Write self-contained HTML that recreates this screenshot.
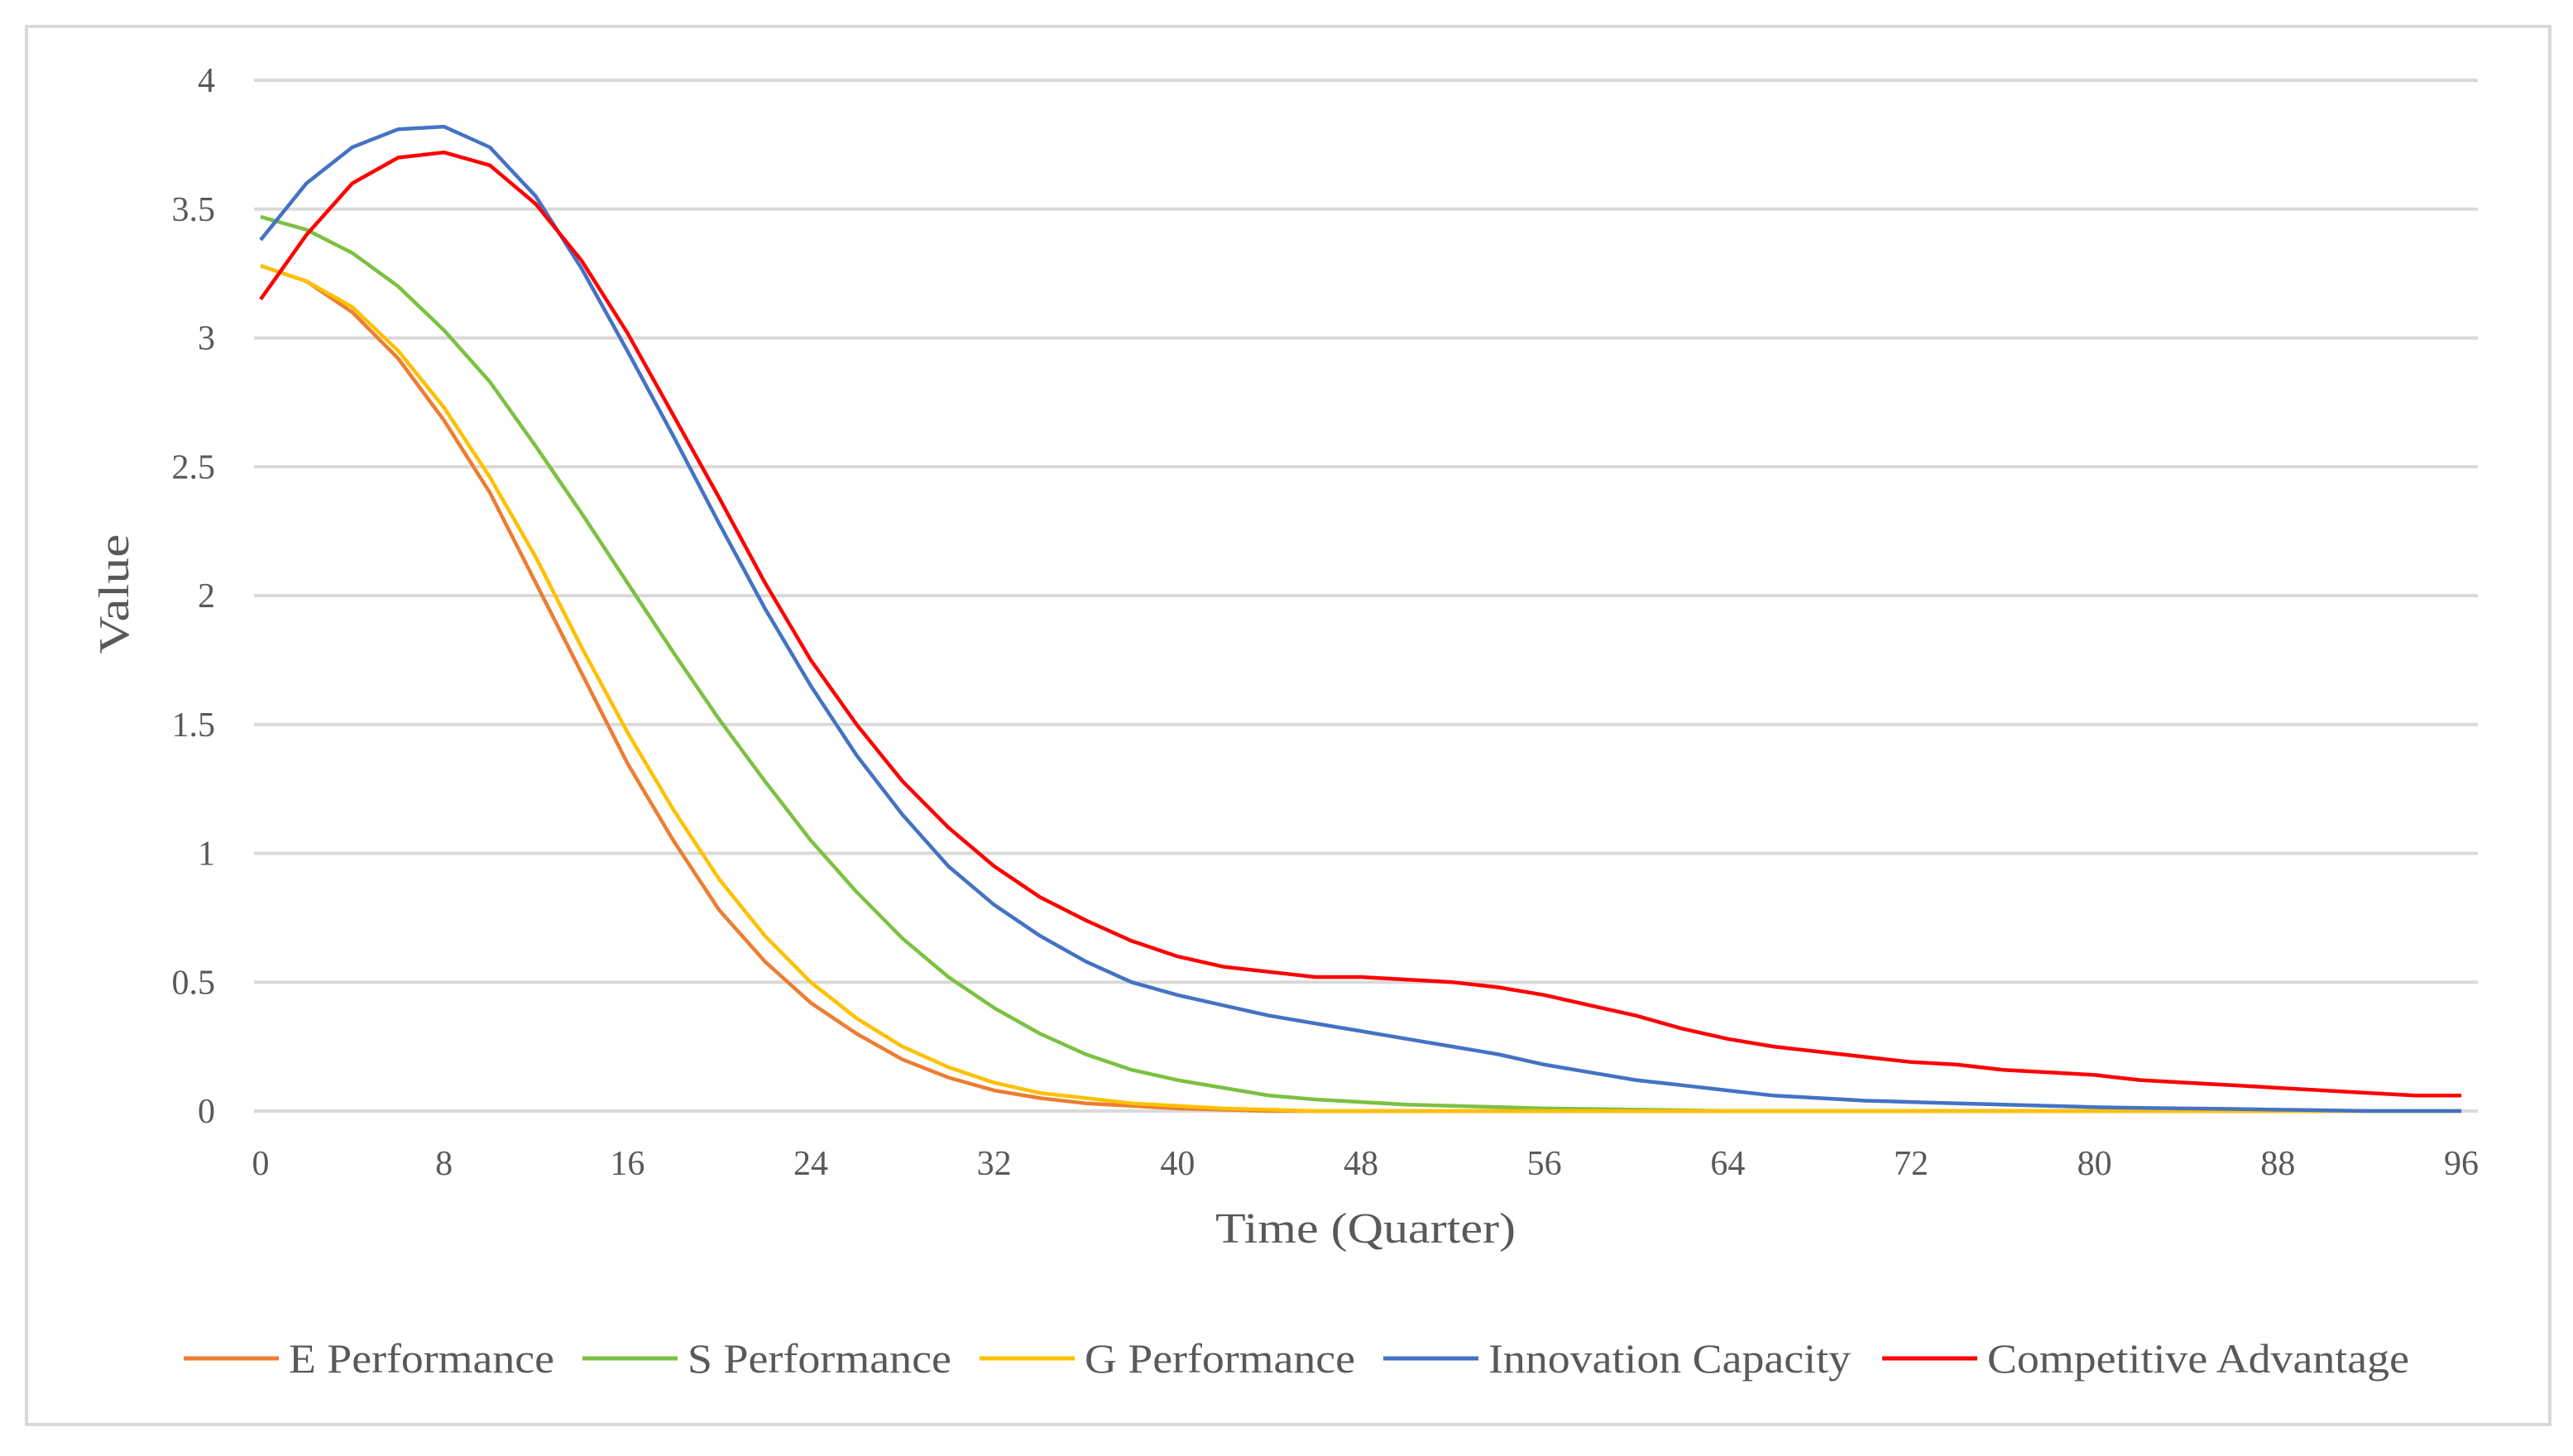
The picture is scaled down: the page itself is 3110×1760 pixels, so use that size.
<!DOCTYPE html>
<html><head><meta charset="utf-8"><style>
html,body{margin:0;padding:0;background:#fff;}
svg{display:block;}
text{font-family:"Liberation Serif",serif;fill:#595959;}
</style></head><body>
<svg id="chart" width="3110" height="1760" viewBox="0 0 3110 1760">
<rect x="32" y="32" width="3050" height="1690" fill="#fff" stroke="#d9d9d9" stroke-width="4"/>
<g id="grid"></g>
<g id="yticks"></g>
<g id="xticks"></g>
<g id="series"></g>
<text x="143" y="718" font-size="52" text-anchor="middle" transform="rotate(-90 143 718)" dominant-baseline="middle" textLength="145" lengthAdjust="spacingAndGlyphs">Value</text>
<text x="1469" y="1502" font-size="52" textLength="363" lengthAdjust="spacingAndGlyphs">Time (Quarter)</text>
<g id="legend"></g>
</svg>
<script>
const yTicks=[0,0.5,1,1.5,2,2.5,3,3.5,4];
const yTickLabels=["0","0.5","1","1.5","2","2.5","3","3.5","4"];
const xTicks=[0,8,16,24,32,40,48,56,64,72,80,88,96];
const times=[0,2,4,6,8,10,12,14,16,18,20,22,24,26,28,30,32,34,36,38,40,42,44,46,48,50,52,54,56,58,60,62,64,66,68,70,72,74,76,78,80,82,84,86,88,90,92,94,96];
const seriesNames=["E Performance","S Performance","G Performance","Innovation Capacity","Competitive Advantage"];
const ePerf=[3.28,3.22,3.1,2.92,2.68,2.4,2.05,1.7,1.35,1.05,0.78,0.58,0.42,0.3,0.2,0.13,0.08,0.05,0.03,0.02,0.01,0.005,0,0,0,0,0,0,0,0,0,0,0,0,0,0,0,0,0,0,0,0,0,0,0,0,0,0,0];
const sPerf=[3.47,3.42,3.33,3.2,3.03,2.83,2.58,2.32,2.05,1.78,1.52,1.28,1.05,0.85,0.67,0.52,0.4,0.3,0.22,0.16,0.12,0.09,0.06,0.045,0.035,0.025,0.02,0.015,0.01,0.008,0.005,0.003,0,0,0,0,0,0,0,0,0,0,0,0,0,0,0,0,0];
const gPerf=[3.28,3.22,3.12,2.95,2.73,2.46,2.15,1.8,1.47,1.17,0.9,0.68,0.5,0.36,0.25,0.17,0.11,0.07,0.05,0.03,0.02,0.01,0.005,0,0,0,0,0,0,0,0,0,0,0,0,0,0,0,0,0,0,0,0,0,0,0,0,0,0];
const innov=[3.38,3.6,3.74,3.81,3.82,3.74,3.55,3.27,2.95,2.62,2.28,1.95,1.65,1.38,1.15,0.95,0.8,0.68,0.58,0.5,0.45,0.41,0.37,0.34,0.31,0.28,0.25,0.22,0.18,0.15,0.12,0.1,0.08,0.06,0.05,0.04,0.035,0.03,0.025,0.02,0.015,0.012,0.01,0.008,0.005,0.003,0,0,0];
const compAdv=[3.15,3.4,3.6,3.7,3.72,3.67,3.52,3.3,3.02,2.7,2.38,2.05,1.75,1.5,1.28,1.1,0.95,0.83,0.74,0.66,0.6,0.56,0.54,0.52,0.52,0.51,0.5,0.48,0.45,0.41,0.37,0.32,0.28,0.25,0.23,0.21,0.19,0.18,0.16,0.15,0.14,0.12,0.11,0.1,0.09,0.08,0.07,0.06,0.06];
const colors=["#ED7D31","#7CC142","#FFC000","#4472C4","#FF0000"];
const legendTextLen=[321,319,327,438,510];
const NS="http://www.w3.org/2000/svg";
const X0=315,X1=2975,Y0=1343,Y4=97;
function xs(t){return X0+(t/96)*(X1-X0);}
function ys(v){return Y0-(v/4)*(Y0-Y4);}
function mk(tag,attrs,parent){const e=document.createElementNS(NS,tag);for(const k in attrs)e.setAttribute(k,attrs[k]);parent.appendChild(e);return e;}
const grid=document.getElementById('grid'),yt=document.getElementById('yticks'),xt=document.getElementById('xticks'),ser=document.getElementById('series'),leg=document.getElementById('legend');
yTicks.forEach((v,i)=>{
 const l=mk('line',{x1:307,x2:2995,y1:ys(v),y2:ys(v),stroke:'#d9d9d9','stroke-width':4},grid);
 
 
 const t=mk('text',{x:260,y:ys(v)+14,'font-size':42,'text-anchor':'end'},yt);
 t.textContent=yTickLabels[i];
 
 
});
xTicks.forEach(v=>{
 const t=mk('text',{x:xs(v),y:1420,'font-size':42,'text-anchor':'middle'},xt);
 t.textContent=String(v);
 
 
});
const allSeries=[ePerf,sPerf,gPerf,innov,compAdv];
allSeries.forEach((arr,si)=>{
 const pts=arr.map((v,i)=>xs(times[i]).toFixed(1)+','+ys(v).toFixed(1)).join(' ');
 const p=mk('polyline',{points:pts,fill:'none',stroke:colors[si],'stroke-width':4.5,'stroke-linejoin':'round'},ser);
 
 
});
const legX=[222,704,1184,1672,2275];
seriesNames.forEach((n,i)=>{
 const l=mk('line',{x1:legX[i],x2:legX[i]+115,y1:1642,y2:1642,stroke:colors[i],'stroke-width':5},leg);
 
 
 const t=mk('text',{x:legX[i]+127,y:1659,'font-size':50,textLength:legendTextLen[i],lengthAdjust:'spacingAndGlyphs'},leg);
 t.textContent=n;
 
 
});
</script>
</body></html>
